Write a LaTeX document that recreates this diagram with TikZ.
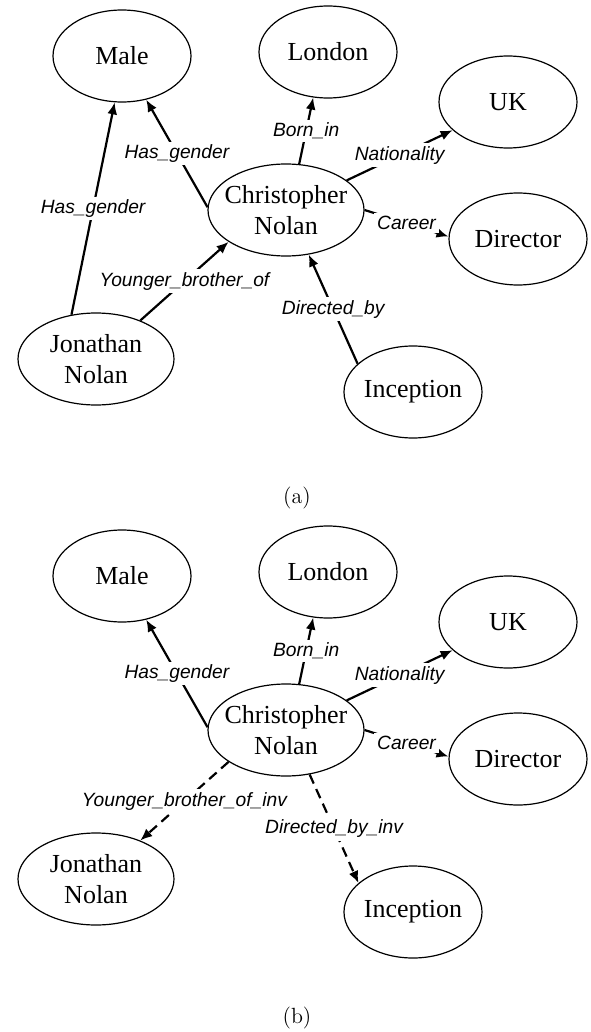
\documentclass[tikz,border=0pt]{standalone}
\usepackage{fontspec}
\usepackage{tikz}
\usetikzlibrary{shapes.geometric,arrows.meta}
\newfontfamily\entityfont{Liberation Serif}
\newfontfamily\relfont{Liberation Sans}

\tikzset{
  entity/.style={draw, ellipse, line width=0.6pt, inner sep=-4pt,
    minimum width=69pt, minimum height=46pt, align=center,
    font=\entityfont\fontsize{13}{15.5}\selectfont},
  wide/.style={minimum width=78pt},
  rel/.style={->, line width=1.1pt},
  inv/.style={rel, dash pattern=on 5pt off 3pt},
  rlabel/.style={fill=white, inner sep=1.5pt,
    font=\relfont\itshape\fontsize{9.6}{11}\selectfont},
  caption/.style={font=\fontsize{11}{13}\selectfont}
}

\begin{document}
\begin{tikzpicture}[x=0.5pt, y=-0.5pt, >={Latex[length=6pt,width=5pt]}]
  \useasboundingbox (0,0) rectangle (590,1032);

  % (a) original triples
  \node[entity] (maleA) at (122,56) {Male};
  \node[entity] (londonA) at (328,52) {London};
  \node[entity] (ukA) at (508,102) {UK};
  \node[entity] (dirA) at (518,239) {Director};
  \node[entity, wide] (chrisA) at (286,210) {Christopher\\Nolan};
  \node[entity, wide] (jonA) at (96,359) {Jonathan\\Nolan};
  \node[entity] (incA) at (413,392) {Inception};

  \draw[rel] (chrisA.178) -- node[rlabel] (hgA1) {Has\_gender} (maleA.-61);
  \draw[rel] (jonA.119) -- node[rlabel] (hgA2) {Has\_gender} (maleA.261);
  \draw[rel] (chrisA.74) -- node[rlabel] (bornA) {Born\_in} (londonA.252);
  \draw[rel] (chrisA.26) -- node[rlabel] (natA) {Nationality} (ukA.207);
  \draw[rel] (chrisA.0) -- node[rlabel] (carA) {Career} (dirA.178);
  \draw[rel] (jonA.41) -- node[rlabel] (ybA) {Younger\_brother\_of} (chrisA.209);
  \draw[rel] (incA.153) -- node[rlabel] (dbA) {Directed\_by} (chrisA.-63);

  \node[caption] (capA) at (297,498) {(a)};

  % (b) inverse relations
  \begin{scope}[shift={(0,520)}]
    \node[entity] (maleB) at (122,56) {Male};
    \node[entity] (londonB) at (328,52) {London};
    \node[entity] (ukB) at (508,102) {UK};
    \node[entity] (dirB) at (518,239) {Director};
    \node[entity, wide] (chrisB) at (286,210) {Christopher\\Nolan};
    \node[entity, wide] (jonB) at (96,359) {Jonathan\\Nolan};
    \node[entity] (incB) at (413,392) {Inception};

    \draw[rel] (chrisB.178) -- node[rlabel] (hgB) {Has\_gender} (maleB.-61);
    \draw[rel] (chrisB.74) -- node[rlabel] (bornB) {Born\_in} (londonB.252);
    \draw[rel] (chrisB.26) -- node[rlabel] (natB) {Nationality} (ukB.207);
    \draw[rel] (chrisB.0) -- node[rlabel] (carB) {Career} (dirB.178);
    \draw[inv] (chrisB.209) -- node[rlabel] (ybB) {Younger\_brother\_of\_inv} (jonB.41);
    \draw[inv] (chrisB.-62) -- node[rlabel] (dbB) {Directed\_by\_inv} (incB.152);

    \node[caption] (capB) at (297,498) {(b)};
  \end{scope}
\end{tikzpicture}
\end{document}
